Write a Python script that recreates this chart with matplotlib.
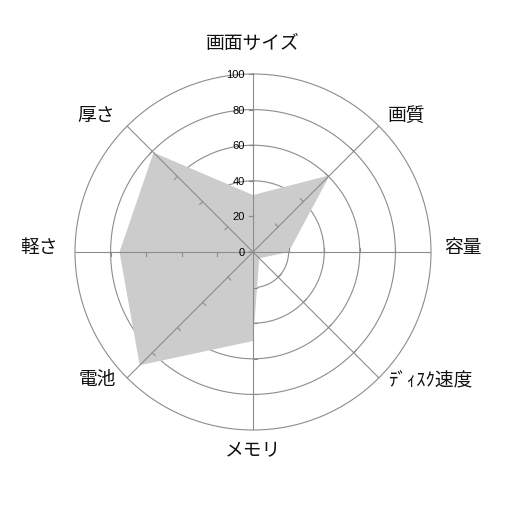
import numpy as np
import matplotlib
matplotlib.use("Agg")
import matplotlib.pyplot as plt

plt.rcParams["font.family"] = ["Noto Sans CJK JP", "DejaVu Sans"]

# ---------------------------------------------------------------------------
# Data
# ---------------------------------------------------------------------------
categories = ["画面サイズ", "画質", "容量", "ﾃﾞｨｽｸ速度", "メモリ", "電池", "軽さ", "厚さ"]
values = [32, 61, 20, 5, 50, 90, 75, 79]
r_ticks = [0, 20, 40, 60, 80, 100]

GRID = "#8c8c8c"
FILL = "#cccccc"

# ---------------------------------------------------------------------------
# Figure
# ---------------------------------------------------------------------------
fig = plt.figure(figsize=(5.06, 5.06), dpi=100)
half = 0.3518
ax = fig.add_axes([0.5 - half, 0.5 - half, 2 * half, 2 * half], projection="polar")
ax.set_theta_zero_location("N")
ax.set_theta_direction(-1)
ax.set_ylim(0, 100)
ax.grid(False)
ax.set_xticks([])
ax.set_yticks([])
ax.spines["polar"].set_color(GRID)
ax.spines["polar"].set_linewidth(0.8)

n = len(categories)
angles = np.arange(n) * 2 * np.pi / n

# rings (under the fill)
circle = np.linspace(0, 2 * np.pi, 361)
for r in r_ticks[1:-1]:
    ax.plot(circle, np.full_like(circle, r), color=GRID, lw=0.8, zorder=1)

# filled area
ax.fill(np.append(angles, angles[0]), values + values[:1],
        color=FILL, lw=0, zorder=2)

# spokes and small ticks (over the fill)
tick_len = 2.3
for a in angles:
    ax.plot([a, a], [0, 100], color=GRID, lw=0.8, zorder=3)
    for r in r_ticks[1:-1]:
        r2 = np.hypot(r, tick_len)
        a2 = a - np.arctan2(tick_len, r)
        ax.plot([a, a2], [r, r2], color=GRID, lw=0.8, zorder=3)

# value labels on the top spoke
for r in r_ticks:
    r2 = np.hypot(max(r, 0.01), tick_len)
    a2 = -np.arctan2(tick_len, max(r, 0.01))
    ax.plot([0, a2], [r, r2], color=GRID, lw=0.8, zorder=3)
    ax.annotate(str(r), xy=(0, r), xytext=(-6, 0), textcoords="offset points",
                ha="right", va="center", fontsize=8,
                family=["Liberation Sans", "DejaVu Sans"], zorder=4)

# category labels, offset (points) from the end of each spoke
label_pos = [
    ((0, 22.5), "center"),
    ((6.5, 8.6), "left"),
    ((9.4, 4.3), "left"),
    ((6.5, -0.7), "left"),
    ((0, -14.4), "center"),
    ((-8, -0.7), "right"),
    ((-12.2, 4.3), "right"),
    ((-8.6, 8.6), "right"),
]
for a, name, (off, ha) in zip(angles, categories, label_pos):
    ax.annotate(name, xy=(a, 100), xytext=off, textcoords="offset points",
                ha=ha, va="center", fontsize=13.5, color="#111111",
                annotation_clip=False)

fig.savefig("out.png", dpi=100)
